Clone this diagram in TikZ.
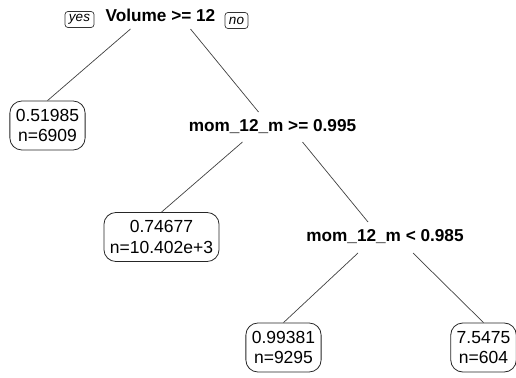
\documentclass[tikz,border=0pt]{standalone}
\usepackage{fontspec}
\setmainfont{Liberation Sans}
\begin{document}
\begin{tikzpicture}[x=1pt,y=-1pt,
  splitlabel/.style={font=\fontsize{17.2}{20}\selectfont\bfseries, inner sep=0pt},
  leafbox/.style={draw=black!85, line width=0.8pt, rounded corners=12pt,
    align=center, font=\fontsize{17.5}{20.5}\selectfont, inner xsep=6pt,
    minimum height=49pt, inner ysep=0pt},
  tagbox/.style={draw=black!80, line width=0.7pt, rounded corners=3pt,
    font=\fontsize{13.5}{14}\selectfont\itshape, inner xsep=4pt,
    minimum height=16pt, inner ysep=0pt},
  branch/.style={draw=black!75, line width=0.7pt}]
\useasboundingbox (0,0) rectangle (516,377);

% split labels
\node[splitlabel] (root)  at (160.5,15)  {Volume >= 12};
\node[splitlabel] (node2) at (272.5,127) {mom\_12\_m >= 0.995};
\node[splitlabel] (node3) at (385,237) {mom\_12\_m < 0.985};

% yes / no tags beside the root split
\node[tagbox] (yes) at (79.5,19.5) {yes};
\node[tagbox] (no)  at (236.5,20.5) {no};

% leaves
\node[leafbox] (leaf1) at (47.5,125.5) {0.51985\\n=6909};
\node[leafbox] (leaf2) at (161.5,237)  {0.74677\\n=10.402e+3};
\node[leafbox] (leaf3) at (283.5,347.5) {0.99381\\n=9295};
\node[leafbox] (leaf4) at (483.5,347.5) {7.5475\\n=604};

% branches
\draw[branch] ([shift={(-30,14)}]root.center) -- (leaf1.north);
\draw[branch] ([shift={(30,14)}]root.center) -- ([shift={(-14,-15)}]node2.center);
\draw[branch] ([shift={(-30,15)}]node2.center) -- (leaf2.north);
\draw[branch] ([shift={(30,15)}]node2.center) -- ([shift={(-17,-15)}]node3.center);
\draw[branch] ([shift={(-27,16)}]node3.center) -- (leaf3.north);
\draw[branch] ([shift={(28,16)}]node3.center) -- (leaf4.north);
\end{tikzpicture}
\end{document}
